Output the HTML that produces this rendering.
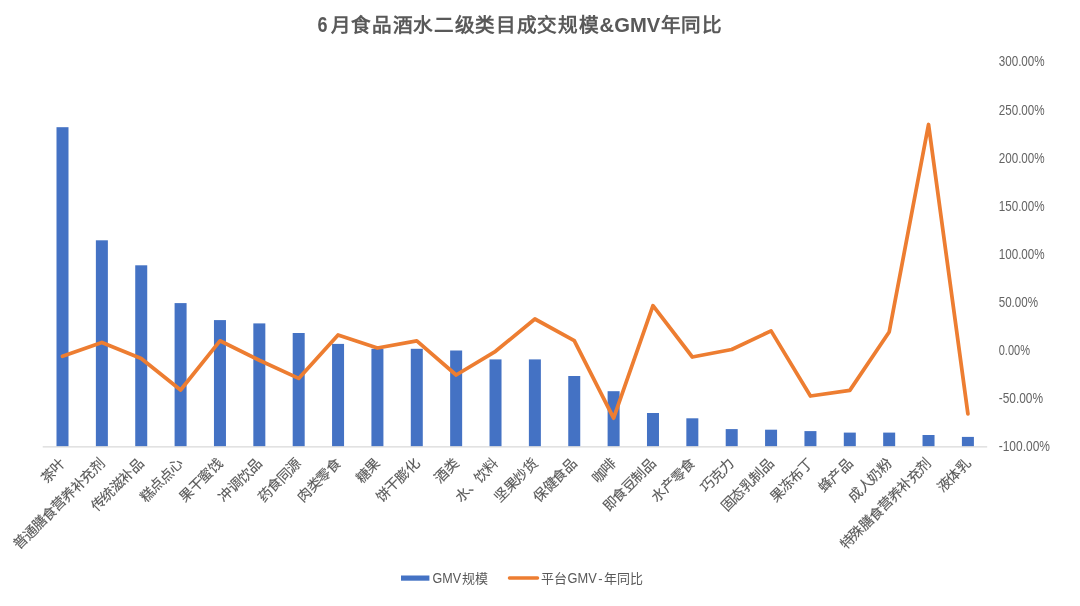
<!DOCTYPE html>
<html lang="zh-CN"><head><meta charset="utf-8">
<style>
html,body{margin:0;padding:0;background:#fff;}
body{width:1080px;height:606px;overflow:hidden;font-family:"Liberation Sans",sans-serif;}
svg{display:block;will-change:transform;}
.lab text{font-size:14px;letter-spacing:-0.5px;fill:#595959;stroke:#595959;stroke-width:0.12px;}
.tk text{font-size:14px;fill:#646464;}
</style></head><body>
<svg width="1080" height="606" viewBox="0 0 1080 606" font-family="Liberation Sans, sans-serif">
<rect width="1080" height="606" fill="#fff"/>
<text y="31.6" font-size="19.6px" font-weight="bold" fill="#595959"><tspan x="317.4" font-size="21.5px" textLength="10" lengthAdjust="spacingAndGlyphs">6</tspan><tspan x="330.6" textLength="268" lengthAdjust="spacing">月食品酒水二级类目成交规模</tspan><tspan x="599.6" textLength="60.6" lengthAdjust="spacingAndGlyphs">&amp;GMV</tspan><tspan x="660.6" textLength="61" lengthAdjust="spacing">年同比</tspan></text>
<g><rect x="56.50" y="127.20" width="12.00" height="319.30" fill="#4472C4"/>
<rect x="95.87" y="240.30" width="12.00" height="206.20" fill="#4472C4"/>
<rect x="135.23" y="265.30" width="12.00" height="181.20" fill="#4472C4"/>
<rect x="174.59" y="303.10" width="12.00" height="143.40" fill="#4472C4"/>
<rect x="213.96" y="320.10" width="12.00" height="126.40" fill="#4472C4"/>
<rect x="253.33" y="323.40" width="12.00" height="123.10" fill="#4472C4"/>
<rect x="292.69" y="333.00" width="12.00" height="113.50" fill="#4472C4"/>
<rect x="332.06" y="343.90" width="12.00" height="102.60" fill="#4472C4"/>
<rect x="371.42" y="348.80" width="12.00" height="97.70" fill="#4472C4"/>
<rect x="410.79" y="348.80" width="12.00" height="97.70" fill="#4472C4"/>
<rect x="450.15" y="350.50" width="12.00" height="96.00" fill="#4472C4"/>
<rect x="489.52" y="359.40" width="12.00" height="87.10" fill="#4472C4"/>
<rect x="528.88" y="359.40" width="12.00" height="87.10" fill="#4472C4"/>
<rect x="568.25" y="376.00" width="12.00" height="70.50" fill="#4472C4"/>
<rect x="607.61" y="391.20" width="12.00" height="55.30" fill="#4472C4"/>
<rect x="646.98" y="413.00" width="12.00" height="33.50" fill="#4472C4"/>
<rect x="686.34" y="418.30" width="12.00" height="28.20" fill="#4472C4"/>
<rect x="725.71" y="429.10" width="12.00" height="17.40" fill="#4472C4"/>
<rect x="765.07" y="429.70" width="12.00" height="16.80" fill="#4472C4"/>
<rect x="804.44" y="431.10" width="12.00" height="15.40" fill="#4472C4"/>
<rect x="843.80" y="432.60" width="12.00" height="13.90" fill="#4472C4"/>
<rect x="883.17" y="432.60" width="12.00" height="13.90" fill="#4472C4"/>
<rect x="922.53" y="435.00" width="12.00" height="11.50" fill="#4472C4"/>
<rect x="961.90" y="436.90" width="12.00" height="9.60" fill="#4472C4"/></g>
<line x1="42.7" y1="446.8" x2="987.2" y2="446.8" stroke="#D9D9D9" stroke-width="1.3"/>
<polyline points="62.50,356.30 101.87,342.50 141.23,358.50 180.59,390.00 219.96,340.80 259.33,360.30 298.69,378.40 338.06,335.00 377.42,348.00 416.79,340.80 456.15,375.00 495.52,351.30 534.88,319.00 574.25,340.60 613.61,418.20 652.98,305.70 692.34,357.00 731.71,349.50 771.07,330.90 810.44,396.00 849.80,390.40 889.17,332.00 928.53,124.50 967.90,413.80" fill="none" stroke="#ED7D31" stroke-width="3.75" stroke-linejoin="round" stroke-linecap="round"/>
<g class="lab"><text x="65.80" y="464.50" text-anchor="end" transform="rotate(-45 65.80 464.50)">茶叶</text>
<text x="105.17" y="464.50" text-anchor="end" transform="rotate(-45 105.17 464.50)">普通膳食营养补充剂</text>
<text x="144.53" y="464.50" text-anchor="end" transform="rotate(-45 144.53 464.50)">传统滋补品</text>
<text x="183.90" y="464.50" text-anchor="end" transform="rotate(-45 183.90 464.50)">糕点点心</text>
<text x="223.26" y="464.50" text-anchor="end" transform="rotate(-45 223.26 464.50)">果干蜜饯</text>
<text x="262.63" y="464.50" text-anchor="end" transform="rotate(-45 262.63 464.50)">冲调饮品</text>
<text x="301.99" y="464.50" text-anchor="end" transform="rotate(-45 301.99 464.50)">药食同源</text>
<text x="341.36" y="464.50" text-anchor="end" transform="rotate(-45 341.36 464.50)">肉类零食</text>
<text x="380.72" y="464.50" text-anchor="end" transform="rotate(-45 380.72 464.50)">糖果</text>
<text x="420.09" y="464.50" text-anchor="end" transform="rotate(-45 420.09 464.50)">饼干膨化</text>
<text x="459.45" y="464.50" text-anchor="end" transform="rotate(-45 459.45 464.50)">酒类</text>
<text x="498.82" y="464.50" text-anchor="end" transform="rotate(-45 498.82 464.50)">水、饮料</text>
<text x="538.18" y="464.50" text-anchor="end" transform="rotate(-45 538.18 464.50)">坚果炒货</text>
<text x="577.54" y="464.50" text-anchor="end" transform="rotate(-45 577.54 464.50)">保健食品</text>
<text x="616.91" y="464.50" text-anchor="end" transform="rotate(-45 616.91 464.50)">咖啡</text>
<text x="656.27" y="464.50" text-anchor="end" transform="rotate(-45 656.27 464.50)">即食豆制品</text>
<text x="695.64" y="464.50" text-anchor="end" transform="rotate(-45 695.64 464.50)">水产零食</text>
<text x="735.00" y="464.50" text-anchor="end" transform="rotate(-45 735.00 464.50)">巧克力</text>
<text x="774.37" y="464.50" text-anchor="end" transform="rotate(-45 774.37 464.50)">固态乳制品</text>
<text x="813.74" y="464.50" text-anchor="end" transform="rotate(-45 813.74 464.50)">果冻布丁</text>
<text x="853.10" y="464.50" text-anchor="end" transform="rotate(-45 853.10 464.50)">蜂产品</text>
<text x="892.47" y="464.50" text-anchor="end" transform="rotate(-45 892.47 464.50)">成人奶粉</text>
<text x="931.83" y="464.50" text-anchor="end" transform="rotate(-45 931.83 464.50)">特殊膳食营养补充剂</text>
<text x="971.20" y="464.50" text-anchor="end" transform="rotate(-45 971.20 464.50)">液体乳</text></g>
<g class="tk"><text x="998.7" y="66.45" textLength="46.0" lengthAdjust="spacingAndGlyphs">300.00%</text>
<text x="998.7" y="114.57" textLength="46.0" lengthAdjust="spacingAndGlyphs">250.00%</text>
<text x="998.7" y="162.69" textLength="46.0" lengthAdjust="spacingAndGlyphs">200.00%</text>
<text x="998.7" y="210.81" textLength="46.0" lengthAdjust="spacingAndGlyphs">150.00%</text>
<text x="998.7" y="258.93" textLength="46.0" lengthAdjust="spacingAndGlyphs">100.00%</text>
<text x="998.7" y="307.05" textLength="39.3" lengthAdjust="spacingAndGlyphs">50.00%</text>
<text x="998.7" y="355.17" textLength="31.3" lengthAdjust="spacingAndGlyphs">0.00%</text>
<text x="998.7" y="403.29" textLength="44.3" lengthAdjust="spacingAndGlyphs">-50.00%</text>
<text x="998.7" y="451.41" textLength="51.3" lengthAdjust="spacingAndGlyphs">-100.00%</text></g>
<rect x="401" y="575.5" width="28.4" height="5.2" fill="#4472C4"/>
<text y="582.8" font-size="13px" fill="#595959"><tspan x="432.6" font-size="14.6px" textLength="28.6" lengthAdjust="spacingAndGlyphs">GMV</tspan><tspan x="462">规模</tspan></text>
<line x1="509.5" y1="578.1" x2="537.5" y2="578.1" stroke="#ED7D31" stroke-width="3.5" stroke-linecap="round"/>
<text y="582.8" font-size="13px" fill="#595959"><tspan x="541.2">平台</tspan><tspan x="567.6" font-size="14.6px" textLength="29.2" lengthAdjust="spacingAndGlyphs">GMV</tspan><tspan x="598.3">-</tspan><tspan x="603.8">年同比</tspan></text>
</svg>
</body></html>
